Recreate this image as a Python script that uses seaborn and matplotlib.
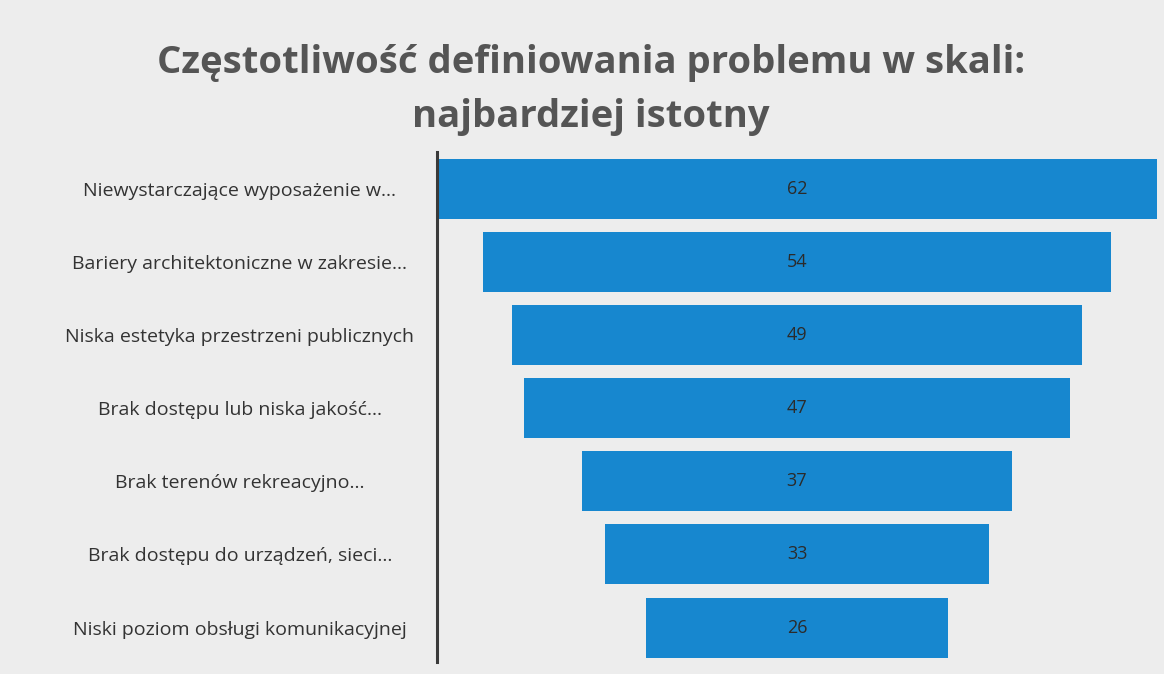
import matplotlib
matplotlib.use("Agg")
import matplotlib.pyplot as plt
import seaborn as sns
import pandas as pd

categories = [
    "Niewystarczające wyposażenie w...",
    "Bariery architektoniczne w zakresie...",
    "Niska estetyka przestrzeni publicznych",
    "Brak dostępu lub niska jakość...",
    "Brak terenów rekreacyjno...",
    "Brak dostępu do urządzeń, sieci...",
    "Niski poziom obsługi komunikacyjnej",
]
values = [62, 54, 49, 47, 37, 33, 26]
title = "Częstotliwość definiowania problemu w skali:\nnajbardziej istotny"

df = pd.DataFrame({"kategoria": categories, "wartosc": values})

sns.set_theme(style="white")
plt.rcParams["font.family"] = ["Open Sans", "DejaVu Sans"]

bg = "#ededed"
fig = plt.figure(figsize=(11.64, 6.74), dpi=100, facecolor=bg)
ax = fig.add_axes([437/1164, 1 - 662/674, (1157 - 437)/1164, (662 - 152)/674])
ax.set_facecolor(bg)

sns.barplot(data=df, x="wartosc", y="kategoria", orient="h", color="#1787cf",
            saturation=1, width=0.82, ax=ax)

vmax = max(values)
for patch, v in zip(ax.patches, values):
    patch.set_x((vmax - v) / 2)
    patch.set_edgecolor("none")

for i, v in enumerate(values):
    ax.text(vmax / 2, i, str(v), ha="center", va="center",
            fontsize=13, color="#2b2b2b")

ax.set_xlim(0, vmax)
ax.set_ylim(len(values) - 1 + 0.47, -0.5)
ax.set_xlabel("")
ax.set_ylabel("")
ax.set_xticks([])
for s in ["top", "right", "bottom"]:
    ax.spines[s].set_visible(False)
ax.spines["left"].set_color("#3a3a3a")
ax.spines["left"].set_linewidth(2.2)

ax.tick_params(axis="y", length=0, pad=142)
for lab in ax.get_yticklabels():
    lab.set_horizontalalignment("center")
    lab.set_fontsize(14)
    lab.set_color("#333333")

fig.text(0.508, 1 - 90/674, title, ha="center", va="center", fontsize=27.5,
         fontweight="bold", color="#555555", linespacing=1.55)

fig.savefig("out.png", dpi=100, facecolor=bg)
